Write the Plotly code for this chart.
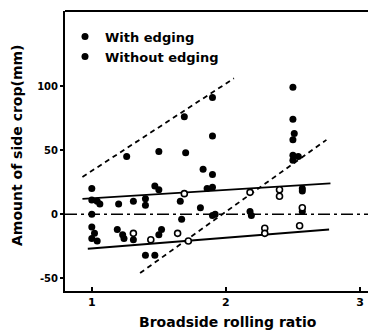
import plotly.graph_objects as go

# Without edging (filled dots)
x_without = [1.00, 1.00, 1.04, 1.06, 1.00, 1.00, 1.02, 1.00, 1.04,
             1.20, 1.19, 1.23, 1.24, 1.31, 1.31, 1.40, 1.40, 1.40, 1.47,
             1.26, 1.50, 1.47, 1.50, 1.50, 1.52, 1.66, 1.67, 1.69, 1.70,
             1.83, 1.90, 1.90, 1.90, 1.86, 1.90, 1.81, 1.92, 1.90,
             2.18, 2.19, 2.50, 2.50, 2.51, 2.50, 2.50, 2.54, 2.50,
             2.57, 2.57, 2.57]
y_without = [20, 11, 10, 8, 0, -10, -15, -19, -21,
             8, -12, -16, -19, 10, -20, 12, 7, -32, -32,
             45, 49, 22, 19, -16, -12, 10, -4, 76, 48,
             35, 31, 91, 61, 20, 21, 5, 0, -1,
             2, -1, 99, 74, 63, 58, 46, 45, 42,
             20, 18, 2]

# With edging (open circles)
x_with = [1.31, 1.44, 1.64, 1.72, 1.69, 2.18, 2.29, 2.29, 2.40, 2.40, 2.57, 2.55]
y_with = [-15, -20, -15, -21, 16, 17, -11, -15, 19, 14, 5, -9]

# Fitted lines (endpoints)
upper_dash_x = [0.93, 2.06]
upper_dash_y = [29, 106]
steep_dash_x = [1.36, 2.75]
steep_dash_y = [-46, 58]
upper_solid_x = [0.93, 2.78]
upper_solid_y = [12, 24]
lower_solid_x = [0.97, 2.77]
lower_solid_y = [-27, -12]
zero_x = [0.8, 3.06]
zero_y = [0, 0]

x_ticks = [1, 2, 3]
y_ticks = [-50, 0, 50, 100]

fig = go.Figure()

line_style = dict(color="black", width=1.8)
fig.add_trace(go.Scatter(x=upper_dash_x, y=upper_dash_y, mode="lines",
                         line=dict(color="black", width=1.8, dash="5px,4px"), showlegend=False))
fig.add_trace(go.Scatter(x=steep_dash_x, y=steep_dash_y, mode="lines",
                         line=dict(color="black", width=1.8, dash="5px,4px"), showlegend=False))
fig.add_trace(go.Scatter(x=upper_solid_x, y=upper_solid_y, mode="lines",
                         line=line_style, showlegend=False))
fig.add_trace(go.Scatter(x=lower_solid_x, y=lower_solid_y, mode="lines",
                         line=line_style, showlegend=False))
fig.add_trace(go.Scatter(x=zero_x, y=zero_y, mode="lines",
                         line=dict(color="black", width=1.5, dash="12px,4px,3px,4px"), showlegend=False))

fig.add_trace(go.Scatter(x=x_without, y=y_without, mode="markers",
                         marker=dict(color="black", size=7), showlegend=False))
fig.add_trace(go.Scatter(x=x_with, y=y_with, mode="markers",
                         marker=dict(color="white", size=6, line=dict(color="black", width=1.6)),
                         showlegend=False))

# legend entries (drawn as filled dots as in the reference)
fig.add_trace(go.Scatter(x=[None], y=[None], mode="markers", name="<b>With edging</b>",
                         marker=dict(color="black", size=7)))
fig.add_trace(go.Scatter(x=[None], y=[None], mode="markers", name="<b>Without edging</b>",
                         marker=dict(color="black", size=7)))

font_family = "DejaVu Sans, sans-serif"

fig.update_layout(
    width=368, height=333,
    margin=dict(l=65, r=0, t=11, b=42),
    plot_bgcolor="white", paper_bgcolor="white",
    font=dict(family=font_family, color="black", size=11),
    legend=dict(x=0.0, y=0.962, xanchor="left", yanchor="top",
                bgcolor="rgba(0,0,0,0)", font=dict(size=13, color="black"),
                itemwidth=30, tracegroupgap=0),
    xaxis=dict(range=[0.8, 3.06], tickvals=x_ticks, ticktext=[f"<b>{v}</b>" for v in x_ticks],
               showgrid=False, zeroline=False, showline=True, linecolor="black", linewidth=2,
               ticks="inside", ticklen=4, tickwidth=1.5, tickcolor="black",
               automargin=False, tickfont=dict(size=11)),
    yaxis=dict(range=[-60, 158.6], tickvals=y_ticks, ticktext=[f"<b>{v}</b>" for v in y_ticks],
               showgrid=False, zeroline=False, showline=True, linecolor="black", linewidth=2,
               ticks="outside", ticklen=3, tickwidth=1.5, tickcolor="black",
               automargin=False, tickfont=dict(size=10)),
    shapes=[dict(type="line", xref="paper", yref="paper", x0=0, x1=1, y0=1, y1=1,
                 line=dict(color="black", width=2))],
    annotations=[
        dict(text="<b>Broadside rolling ratio</b>", xref="paper", yref="paper",
             x=(228 - 65) / 303, y=-31 / 280, xanchor="center", yanchor="middle",
             showarrow=False, font=dict(size=14)),
        dict(text="<b>Amount of side crop(mm)</b>", xref="paper", yref="paper",
             x=(17 - 65) / 303, y=(291 - 146) / 280, xanchor="center", yanchor="middle",
             textangle=-90, showarrow=False, font=dict(size=14)),
    ],
)

fig.write_html("out.html", config={"displayModeBar": False},
               post_script="document.body.style.margin='0';document.body.style.overflow='hidden';")
